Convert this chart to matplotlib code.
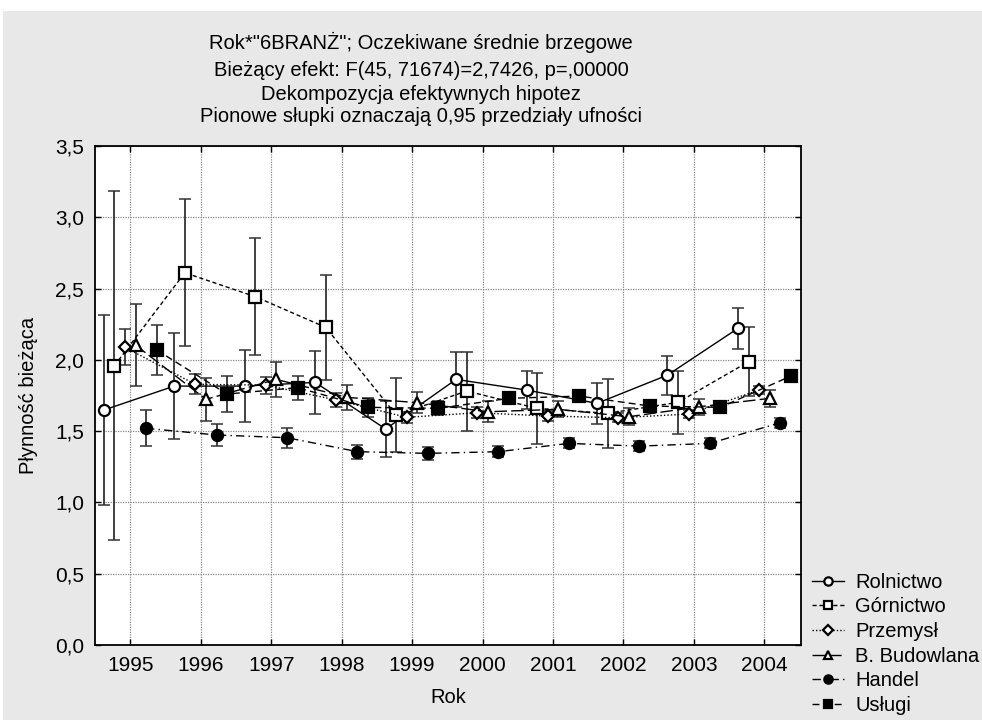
import numpy as np
import matplotlib
matplotlib.use("Agg")
import matplotlib.pyplot as plt
from matplotlib.patches import Rectangle

plt.rcParams["font.family"] = ["Liberation Sans", "DejaVu Sans"]

years = [1995, 1996, 1997, 1998, 1999, 2000, 2001, 2002, 2003, 2004]
names = ["Rolnictwo", "Górnictwo", "Przemysł", "B. Budowlana", "Handel", "Usługi"]

# means and half-widths of the 0.95 confidence intervals
rol = [1.648, 1.816, 1.816, 1.842, 1.515, 1.863, 1.788, 1.695, 1.893, 2.221]
rol_ci = [0.666, 0.370, 0.250, 0.223, 0.195, 0.195, 0.133, 0.145, 0.137, 0.142]
gor = [1.959, 2.611, 2.443, 2.228, 1.613, 1.781, 1.660, 1.625, 1.702, 1.987]
gor_ci = [1.225, 0.517, 0.410, 0.367, 0.260, 0.277, 0.250, 0.240, 0.223, 0.243]
prz = [2.088, 1.828, 1.823, 1.718, 1.597, 1.629, 1.606, 1.594, 1.620, 1.788]
prz_ci = [0.125, 0.070, 0.060, 0.050, 0.040, 0.040, 0.035, 0.030, 0.030, 0.030]
bud = [2.104, 1.723, 1.863, 1.737, 1.700, 1.636, 1.653, 1.601, 1.671, 1.730]
bud_ci = [0.287, 0.150, 0.125, 0.088, 0.075, 0.073, 0.055, 0.060, 0.055, 0.060]
han = [1.520, 1.473, 1.454, 1.356, 1.344, 1.356, 1.414, 1.395, 1.414, 1.559]
han_ci = [0.127, 0.078, 0.070, 0.050, 0.045, 0.040, 0.035, 0.035, 0.035, 0.035]
usl = [2.069, 1.760, 1.805, 1.667, 1.660, 1.730, 1.746, 1.676, 1.667, 1.886]
usl_ci = [0.172, 0.124, 0.085, 0.065, 0.050, 0.040, 0.040, 0.040, 0.035, 0.035]

means = [rol, gor, prz, bud, han, usl]
cis = [rol_ci, gor_ci, prz_ci, bud_ci, han_ci, usl_ci]

# marker, face colour, line style per series (STATISTICA-like)
styles = [
    ("o", "white", "-"),
    ("s", "white", (0, (3, 2))),
    ("D", "white", (0, (1, 1.5))),
    ("^", "white", (0, (9, 3))),
    ("o", "black", (0, (6, 3, 1, 3))),
    ("s", "black", (0, (5, 3))),
]
msizes = [8, 8, 6.5, 8, 8, 8]

fig = plt.figure(figsize=(9.82, 7.2), dpi=100, facecolor="white")
fig.patches.append(Rectangle((3 / 982, 0), 1, (720 - 11) / 720, transform=fig.transFigure,
                             facecolor="#e8e8e8", edgecolor="none", zorder=-10))
ax = fig.add_axes([95 / 982, 75 / 720, 706 / 982, 499 / 720])
ax.set_facecolor("white")

x = np.arange(len(years))
offs = np.linspace(-0.375, 0.375, len(names))
for i, name in enumerate(names):
    m, fc, ls = styles[i]
    xs = x + offs[i]
    ax.errorbar(xs, means[i], yerr=cis[i], fmt="none", ecolor="#333333",
                elinewidth=1.3, capsize=4, capthick=1.1, zorder=3)
    ax.plot(xs, means[i], color="black", lw=1.0, linestyle=ls, marker=m,
            markersize=msizes[i], markerfacecolor=fc, markeredgecolor="black",
            markeredgewidth=1.6, label=name, zorder=4)

ax.set_xlim(-0.5, 9.52)
ax.set_ylim(0, 3.5)
ax.set_xticks(x)
ax.set_xticklabels([str(y) for y in years], fontsize=15)
yt = np.arange(0, 3.51, 0.5)
ax.set_yticks(yt)
ax.set_yticklabels([("%.1f" % v).replace(".", ",") for v in yt], fontsize=15)
ax.tick_params(direction="in", length=4, width=1, top=True, right=True, pad=8)
ax.grid(True, color="#888888", linestyle=(0, (1, 1)), linewidth=0.9)
for s in ax.spines.values():
    s.set_linewidth(1.3)
ax.set_xlabel("Rok", fontsize=14.5, labelpad=9)
ax.set_ylabel("Płynność bieżąca", fontsize=14.5, labelpad=12)

titles = ['Rok*"6BRANŻ"; Oczekiwane średnie brzegowe',
          "Bieżący efekt: F(45, 71674)=2,7426, p=,00000",
          "Dekompozycja efektywnych hipotez",
          "Pionowe słupki oznaczają 0,95 przedziały ufności"]
for k, t in enumerate(titles):
    fig.text(421 / 982, 1 - [42, 71, 94, 116][k] / 720, t, ha="center", va="center",
             fontsize=14.5)

ax.legend(loc="lower left", bbox_to_anchor=(812 / 982, 5 / 720), bbox_transform=fig.transFigure,
          frameon=False, fontsize=14.5, handlelength=1.6, handletextpad=0.55,
          labelspacing=0.28, borderaxespad=0, borderpad=0, markerscale=0.75)

fig.savefig("out.png", dpi=100, facecolor=fig.get_facecolor())
